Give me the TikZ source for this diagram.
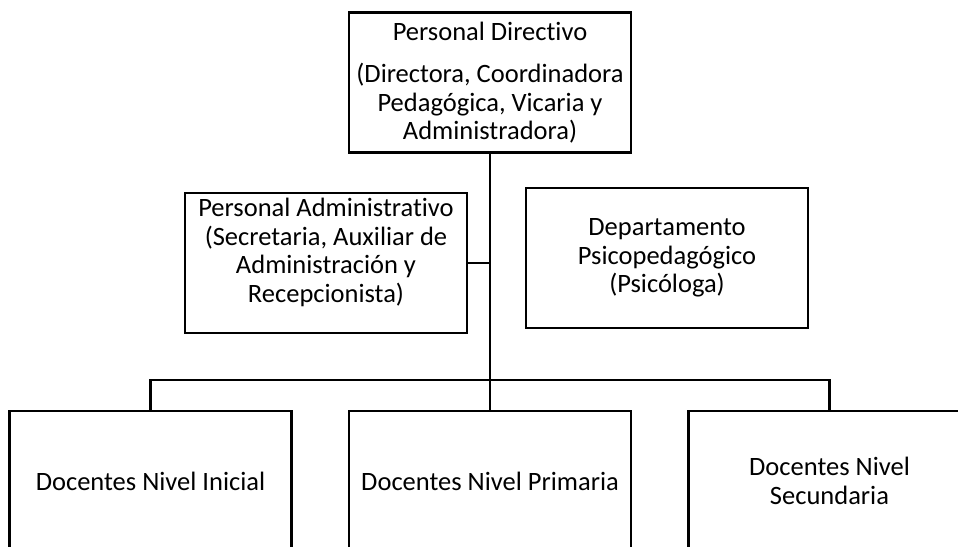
\documentclass[tikz,border=0pt]{standalone}
\usepackage{fontspec}
\setmainfont{Carlito}[Ligatures=NoCommon]
\tikzset{
  orgbox/.style={draw=black, line width=2.4pt, minimum width=282pt, minimum height=140pt, inner sep=0pt},
  orgtext/.style={align=center, inner sep=0pt, font=\fontsize{26.5}{28.5}\selectfont},
  link/.style={draw=black, line width=2.4pt}
}
\begin{document}
\begin{tikzpicture}[x=1pt, y=-1pt]
\useasboundingbox (0,0) rectangle (958,546);
\clip (0,0) rectangle (958,546);
% boxes
\node[orgbox] (top) at (490,82.5) {};
\node[orgtext] (toptext) at (top.center) {Personal Directivo\\[14pt](Directora, Coordinadora\\Pedagógica, Vicaria y\\Administradora)};
\node[orgbox] (admin) at (326,263) {};
\node[orgtext] (admintext) at ([yshift=10.5pt]admin.center) {Personal Administrativo\\(Secretaria, Auxiliar de\\Administración y\\Recepcionista)};
\node[orgbox] (dept) at (667,258) {};
\node[orgtext] (depttext) at (dept.center) {Departamento\\Psicopedagógico\\(Psicóloga)};
\node[orgbox] (b1) at (150.5,481) {};
\node[orgtext] (b1text) at (b1.center) {Docentes Nivel Inicial};
\node[orgbox] (b2) at (490,481) {};
\node[orgtext] (b2text) at (b2.center) {Docentes Nivel Primaria};
\node[orgbox] (b3) at (829.5,481) {};
\node[orgtext] (b3text) at (b3.center) {Docentes Nivel\\Secundaria};
% connectors
\coordinate (busM) at (top.south |- 0,381);
\draw[link] (top.south) -- (busM);
\draw[link] (admin.east) -- (admin.east -| top.south);
\draw[link] (b1.north) -- ++(0,-30) -| (b3.north);
\draw[link] (b2.north) -- (busM);
\end{tikzpicture}
\end{document}
